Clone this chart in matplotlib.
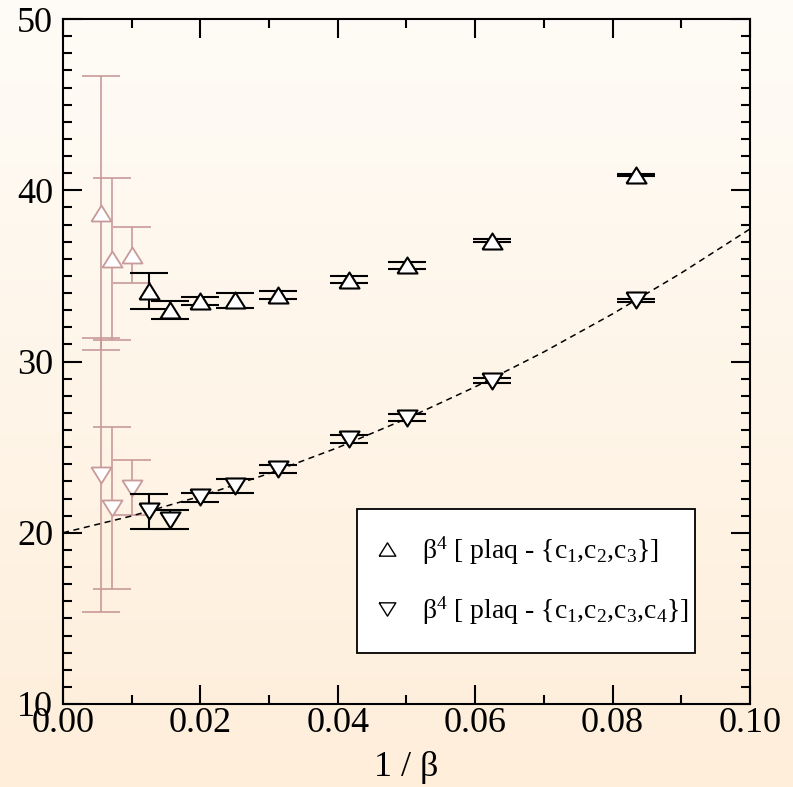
import numpy as np
import matplotlib
matplotlib.use("Agg")
import matplotlib.pyplot as plt
from matplotlib.lines import Line2D
from matplotlib.ticker import MultipleLocator, FormatStrFormatter

plt.rcParams['font.family'] = ['Liberation Serif', 'DejaVu Serif']
plt.rcParams['mathtext.fontset'] = 'custom'
plt.rcParams['mathtext.rm'] = 'Liberation Serif'
plt.rcParams['mathtext.it'] = 'Liberation Serif:italic'
plt.rcParams['mathtext.bf'] = 'Liberation Serif:bold'

# ---- data ----
inv_beta_main = [1/80, 1/64, 1/50, 1/40, 1/32, 1/24, 1/20, 1/16, 1/12]
up_main = [34.1, 33.0, 33.54, 33.58, 33.9, 34.78, 35.62, 37.06, 40.88]
up_main_err = [1.05, 0.53, 0.24, 0.44, 0.23, 0.21, 0.21, 0.10, 0.07]
down_main = [21.25, 20.77, 22.08, 22.74, 23.73, 25.48, 26.72, 28.88, 33.57]
down_main_err = [1.01, 0.54, 0.26, 0.42, 0.22, 0.21, 0.20, 0.13, 0.08]

inv_beta_large = [1/180, 1/140, 1/100]
up_large = [38.7, 36.0, 36.2]
up_large_err = [8.0, 4.72, 1.63]
down_large = [23.4, 21.46, 22.64]
down_large_err = [8.0, 4.74, 1.6]

fit_x = [0.0, 0.01, 0.02, 0.03, 0.04, 0.05, 0.06, 0.07, 0.08, 0.09, 0.10]
fit_y = [20.0, 20.98, 22.13, 23.46, 24.97, 26.66, 28.52, 30.56, 32.78, 35.17, 37.74]

label_up = 'β$^4$ [ plaq - {c$_1$,c$_2$,c$_3$}]'
label_down = 'β$^4$ [ plaq - {c$_1$,c$_2$,c$_3$,c$_4$}]'

x_ticks = [0.00, 0.02, 0.04, 0.06, 0.08, 0.10]
y_ticks = [10, 20, 30, 40, 50]

# ---- styling ----
W, H = 793, 787
fig = plt.figure(figsize=(W/100, H/100), dpi=100)
fig.patch.set_alpha(0)
top_c = np.array([255, 252, 247]) / 255.0
bot_c = np.array([254, 238, 218]) / 255.0
t = np.linspace(0, 1, H)[:, None, None]
grad = (1 - t) * top_c + t * bot_c
grad = np.repeat(grad, W, axis=1)
fig.figimage(grad[::-1], xo=0, yo=0, zorder=-10, origin='lower')

ax = fig.add_axes([63/W, 1 - 704/H, (750-63)/W, (704-19)/H])
ax.set_facecolor('none')

tri_up = [(-1, -0.8), (1, -0.8), (0, 0.8), (-1, -0.8)]
tri_dn = [(-1, 0.8), (1, 0.8), (0, -0.8), (-1, 0.8)]

pink = '#c89a9a'
ms = 14.4
cap = 13.7

for y, e, mk in [(up_large, up_large_err, tri_up), (down_large, down_large_err, tri_dn)]:
    ax.errorbar(inv_beta_large, y, yerr=e, fmt='none', ecolor=pink,
                elinewidth=1.2, capsize=cap, capthick=1.2, zorder=2)
    ax.plot(inv_beta_large, y, linestyle='none', marker=mk, ms=ms,
            mfc='white', mec=pink, mew=1.3, zorder=3)

for y, e, mk in [(up_main, up_main_err, tri_up), (down_main, down_main_err, tri_dn)]:
    ax.errorbar(inv_beta_main, y, yerr=e, fmt='none', ecolor='black',
                elinewidth=1.5, capsize=cap, capthick=1.5, zorder=4)
    ax.plot(inv_beta_main, y, linestyle='none', marker=mk, ms=ms,
            mfc='white', mec='black', mew=1.5, zorder=5)

ax.plot(fit_x, fit_y, linestyle=(0, (4, 3)), color='black', lw=1.1, zorder=3)

ax.set_xlim(0, 0.1)
ax.set_ylim(10, 50)
ax.set_xticks(x_ticks)
ax.set_yticks(y_ticks)
ax.xaxis.set_major_formatter(FormatStrFormatter('%.2f'))
ax.xaxis.set_minor_locator(MultipleLocator(0.01))
ax.yaxis.set_minor_locator(MultipleLocator(1))
ax.tick_params(which='both', direction='in', top=True, right=True, width=1.5,
               labelsize=26)
ax.tick_params(which='major', length=13.7)
ax.tick_params(which='minor', length=6.8)
ax.tick_params(axis='x', pad=2)
ax.tick_params(axis='y', pad=7)
for s in ax.spines.values():
    s.set_linewidth(1.5)

ax.set_xlabel('1 / β', fontsize=26, labelpad=8)

handles = [
    Line2D([], [], linestyle='none', marker=tri_up, ms=12, mfc='white', mec='black', mew=1.0),
    Line2D([], [], linestyle='none', marker=tri_dn, ms=12, mfc='white', mec='black', mew=1.0),
]
leg = ax.legend(handles, [label_up, label_down], loc='upper left',
                bbox_to_anchor=(0.428, 0.285, 0.492, 0.0), mode='expand',
                fontsize=20, frameon=True, fancybox=False, framealpha=1,
                edgecolor='black', borderpad=0.92, labelspacing=1.0,
                handlelength=0.3, handletextpad=1.13, borderaxespad=0)
leg.get_frame().set_linewidth(1.3)
leg.set_zorder(10)

fig.savefig('out.png', dpi=100)
